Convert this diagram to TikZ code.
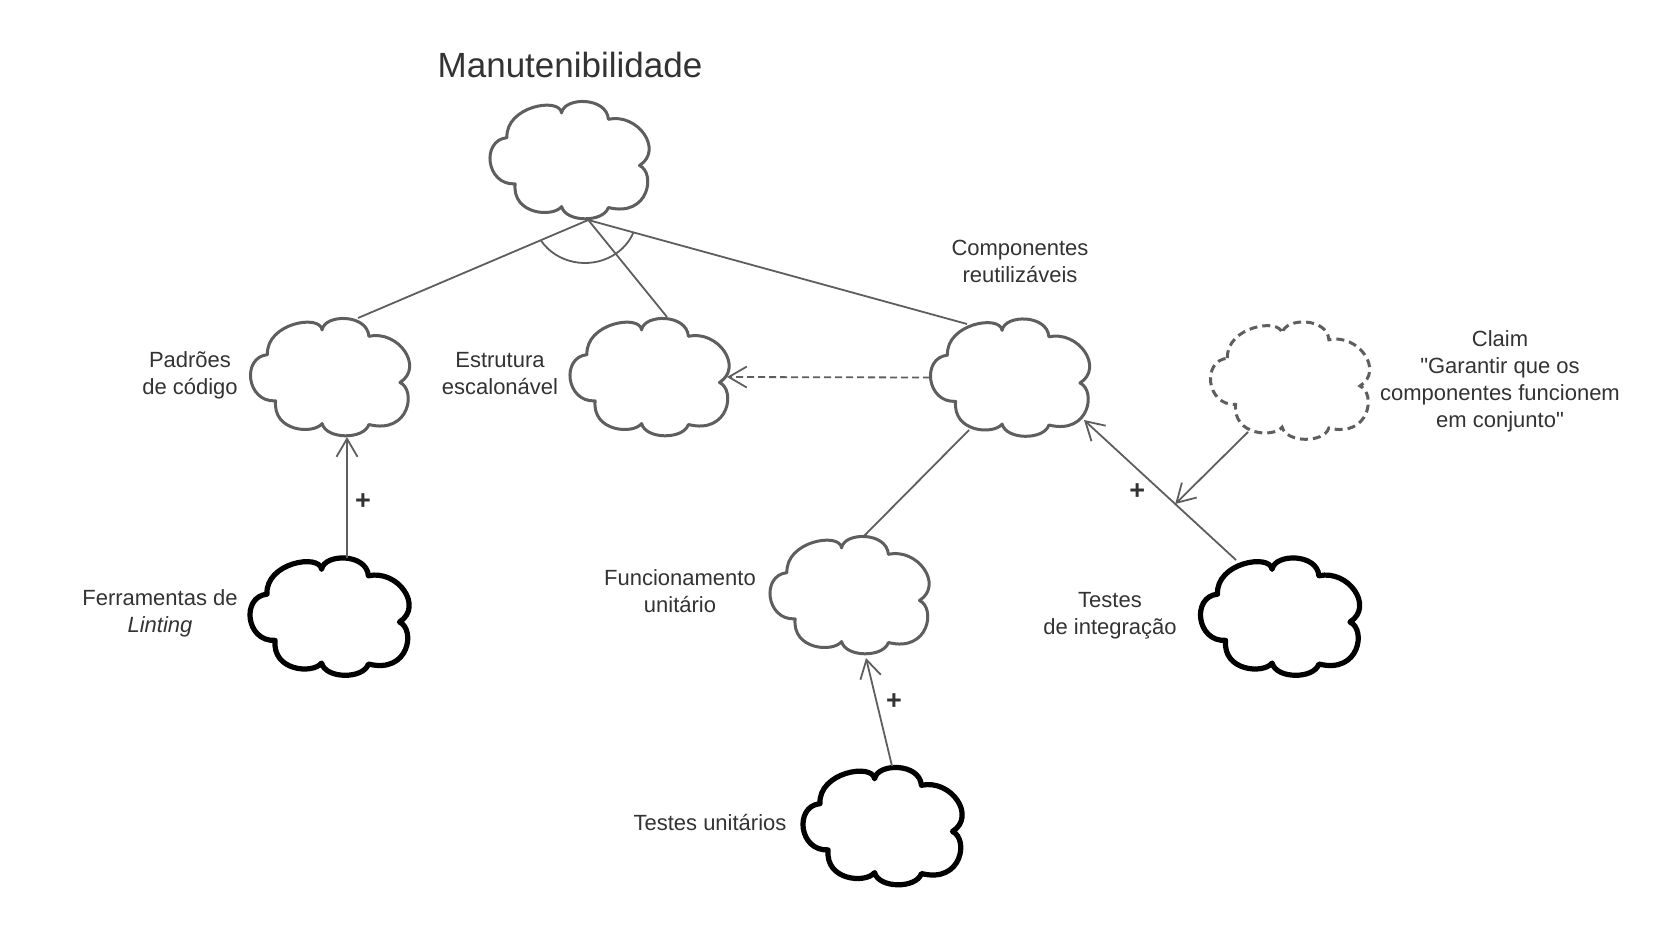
\documentclass[tikz,border=0pt]{standalone}
\usepackage{fontspec}
\setmainfont{Liberation Sans}[Ligatures=TeXOff]
\usetikzlibrary{arrows.meta,calc}
\definecolor{linegray}{HTML}{5E5E5E}
\definecolor{textgray}{HTML}{333333}
\newcommand\cloudat[2]{%
  \begin{scope}[shift={(#1.south west)},x=157pt,y=117pt]
    \draw[#2] (0.108,0.691)
      .. controls (0.098,0.959) and (0.442,1.041) .. (0.456,0.903)
      .. controls (0.473,1.041) and (0.744,1.041) .. (0.754,0.848)
      .. controls (0.942,0.903) and (1.108,0.586) .. (0.952,0.453)
      .. controls (1.056,0.392) and (1.015,0.006) .. (0.754,0.094)
      .. controls (0.723,-0.036) and (0.483,-0.036) .. (0.456,0.102)
      .. controls (0.400,0.006) and (0.140,0.033) .. (0.160,0.296)
      .. controls (-0.027,0.282) and (-0.058,0.669) .. (0.108,0.691) -- cycle;
  \end{scope}}
\tikzset{
  cloudn/.style={rectangle,minimum width=157pt,minimum height=117pt,inner sep=0pt,outer sep=0pt},
  graycloud/.style={draw=linegray,line width=3pt,fill=white,line join=round},
  thickcloud/.style={draw=black,line width=5.2pt,fill=white,line join=round},
  dashcloud/.style={draw=linegray,line width=3pt,fill=white,dash pattern=on 8pt off 5pt},
  conn/.style={draw=linegray,line width=1.8pt},
  arr/.style={conn,-{Straight Barb[length=18pt,width=21pt]}},
  dasharr/.style={arr,dash pattern=on 7pt off 4pt},
  lbl/.style={font=\fontsize{22}{27}\selectfont,text=textgray,align=center,inner sep=0pt,anchor=base},
  titlelbl/.style={font=\fontsize{35}{40}\selectfont,text=textgray,inner sep=0pt,anchor=base},
  plus/.style={font=\fontsize{27}{27}\selectfont\bfseries,text=textgray,inner sep=0pt}
}
\begin{document}
\begin{tikzpicture}[x=1pt,y=-1pt]
\fill[white] (0,0) rectangle (1670,929);
\useasboundingbox (0,0) rectangle (1670,929);
% cloud nodes
\node[cloudn] (top) at (568.5,160) {};
\node[cloudn] (pad) at (329,377) {};
\node[cloudn] (est) at (648.5,377) {};
\node[cloudn] (comp) at (1009,377.5) {};
\node[cloudn] (claim) at (1289,380.5) {};
\node[cloudn] (func) at (848.5,595) {};
\node[cloudn] (lint) at (328.5,616.5) {};
\node[cloudn] (tu) at (881.5,826) {};
\node[cloudn] (ti) at (1279,616.5) {};
\cloudat{top}{graycloud}
\cloudat{pad}{graycloud}
\cloudat{est}{graycloud}
\cloudat{comp}{graycloud}
\cloudat{func}{graycloud}
\cloudat{claim}{dashcloud}
\cloudat{lint}{thickcloud}
\cloudat{tu}{thickcloud}
\cloudat{ti}{thickcloud}
% connector end points
\coordinate (j) at ($(top.center)+(19.8,60)$);
\coordinate (arcc) at ($(top.center)+(16.5,55)$);
\coordinate (padT) at ($(pad.center)+(29,-59)$);
\coordinate (padB) at ($(pad.center)+(18,60)$);
\coordinate (estT) at ($(est.center)+(18.5,-60)$);
\coordinate (estR) at ($(est.center)+(78.5,0)$);
\coordinate (compTL) at ($(comp.center)+(-42,-53.5)$);
\coordinate (compL) at ($(comp.center)+(-79,0)$);
\coordinate (compBL) at ($(comp.center)+(-40,52.5)$);
\coordinate (compBR) at ($(comp.center)+(75,42.5)$);
\coordinate (funcT) at ($(func.center)+(14.5,-58)$);
\coordinate (funcB) at ($(func.center)+(17.5,63)$);
\coordinate (lintT) at ($(lint.center)+(18.5,-59)$);
\coordinate (tuT) at ($(tu.center)+(10.5,-60)$);
\coordinate (tiTL) at ($(ti.center)+(-43,-56.5)$);
\coordinate (claimBL) at ($(claim.center)+(-41,51.5)$);
\coordinate (jn) at ($(tiTL)!0.4!(compBR)$);
% connectors
\draw[conn] (j) -- (padT);
\draw[conn] (j) -- (estT);
\draw[conn] (j) -- (compTL);
\draw[conn] (arcc) ++(148:52 and 48) arc[start angle=148,end angle=22,x radius=52,y radius=48];
\draw[conn] (compBL) -- (funcT);
\draw[dasharr] (compL) -- (estR);
\draw[arr] (lintT) -- node[plus,pos=0.46,xshift=16pt] (p1) {+} (padB);
\draw[arr] (tuT) -- node[plus,pos=0.6,xshift=17.5pt] (p2) {+} (funcB);
\draw[arr] (tiTL) -- node[plus,pos=0.486,xshift=-25pt] (p3) {+} (compBR);
\draw[arr] (claimBL) -- (jn);
% labels (anchor = baseline of the last line)
\node[titlelbl] (lman) at (570,77) {Manutenibilidade};
\node[lbl] (lpad) at (190,394.5) {Padrões\\de código};
\node[lbl] (lest) at (500,394.5) {Estrutura\\escalonável};
\node[lbl] (lcomp) at (1020,282.5) {Componentes\\reutilizáveis};
\node[lbl] (lclaim) at (1500,427) {Claim\\"Garantir que os\\componentes funcionem\\em conjunto"};
\node[lbl] (llint) at (160,632.5) {Ferramentas de\\\textit{Linting}};
\node[lbl] (lfunc) at (680,612.5) {Funcionamento\\unitário};
\node[lbl] (lti) at (1110,634.5) {Testes\\de integração};
\node[lbl] (ltu) at (710,830.5) {Testes unitários};
\end{tikzpicture}
\end{document}
